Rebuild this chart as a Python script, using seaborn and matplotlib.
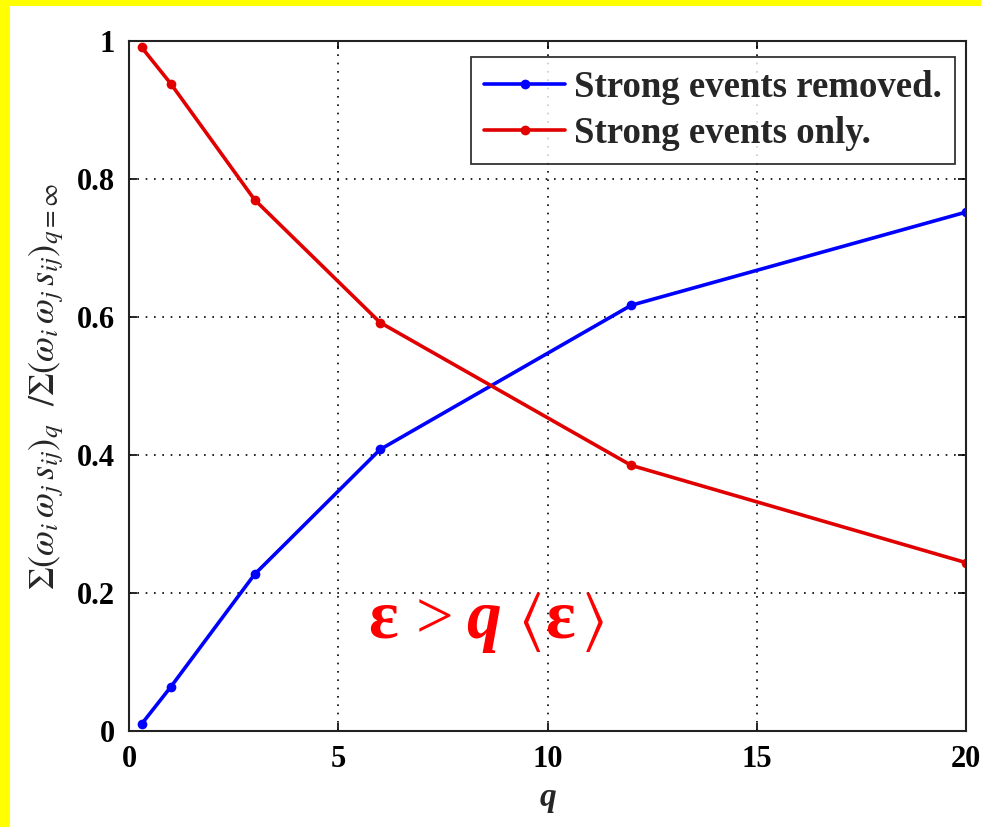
import matplotlib
matplotlib.use("Agg")
import matplotlib.pyplot as plt
from matplotlib.patches import Rectangle
import seaborn as sns
import pandas as pd

# Threshold multiples q and the fraction of total weighted strength
q_values = [0.3, 1, 3, 6, 12, 20]
removed = [0.010, 0.064, 0.227, 0.408, 0.617, 0.752]
only = [0.991, 0.938, 0.770, 0.592, 0.385, 0.244]
series_names = ["Strong events removed.", "Strong events only."]
x_ticks = [0, 5, 10, 15, 20]
y_ticks = [0, 0.2, 0.4, 0.6, 0.8, 1]
y_tick_labels = ["0", "0.2", "0.4", "0.6", "0.8", "1"]

df = pd.DataFrame({
    "q": q_values * 2,
    "frac": removed + only,
    "series": [series_names[0]] * len(q_values) + [series_names[1]] * len(q_values),
})

sns.set_style("white")
plt.rcParams["font.family"] = ["Liberation Serif", "DejaVu Serif"]
plt.rcParams["mathtext.fontset"] = "stix"

fig = plt.figure(figsize=(9.81, 8.27), dpi=100)
fig.patch.set_facecolor("#ffff00")
# white panel inside the yellow frame
fig.patches.append(Rectangle((10 / 981, 0), 1, 1 - 6 / 827,
                             transform=fig.transFigure, facecolor="white",
                             edgecolor="none", zorder=-1))

ax = fig.add_axes([129 / 981, 1 - 731 / 827, (966 - 129) / 981, (731 - 41) / 827])
ax.set_facecolor("white")

palette = {series_names[0]: "#0000ff", series_names[1]: "#e00000"}
sns.lineplot(data=df, x="q", y="frac", hue="series", palette=palette,
             marker="o", markersize=7, markeredgewidth=0, linewidth=2.6,
             ax=ax, legend=True)

ax.set_xlim(0, 20)
ax.set_ylim(0, 1)
ax.set_xticks(x_ticks)
ax.set_yticks(y_ticks)
ax.set_yticklabels(y_tick_labels)
ax.grid(True, color="black", linestyle=(0, (1, 4)), linewidth=1.2)
ax.tick_params(direction="in", length=6, width=1.2, colors="black",
               labelsize=22, top=True, right=True, bottom=True, left=True,
               pad=10)
for lbl in ax.get_xticklabels() + ax.get_yticklabels():
    lbl.set_fontweight("bold")
for s in ax.spines.values():
    s.set_color("#222222")
    s.set_linewidth(1.5)

ax.set_xlabel("q", fontsize=24, fontweight="bold", fontstyle="italic", labelpad=6)
ax.set_ylabel(r"$\Sigma(\omega_i\,\omega_j\,s_{ij})_q\ \ /\Sigma(\omega_i\,\omega_j\,s_{ij})_{q=\infty}$",
              fontsize=26, labelpad=8)

leg = ax.legend(loc="upper right", bbox_to_anchor=(0.987, 0.977),
                borderaxespad=0,
                prop={"size": 26.5, "weight": "bold"}, frameon=True,
                fancybox=False, edgecolor="black", handlelength=2.2,
                handletextpad=0.25, borderpad=0.35, labelspacing=0.3)
leg.get_frame().set_linewidth(1.3)

# threshold condition written piece by piece: bold epsilon, italic q, angle brackets
base_y = 0.135
red = "#ff0000"
ax.text(5.71, base_y, "ε", color=red, fontsize=50, fontweight="bold", va="baseline")
ax.text(6.86, base_y, ">", color=red, fontsize=48, va="baseline")
ax.text(8.05, base_y, "q", color=red, fontsize=50, fontweight="bold",
        fontstyle="italic", va="baseline")
ax.text(9.30, base_y, r"$\langle$", color=red, fontsize=46, va="baseline")
ax.text(9.94, base_y, "ε", color=red, fontsize=50, fontweight="bold", va="baseline")
ax.text(10.80, base_y, r"$\rangle$", color=red, fontsize=46, va="baseline")

fig.savefig("out.png", dpi=100, facecolor=fig.get_facecolor())
